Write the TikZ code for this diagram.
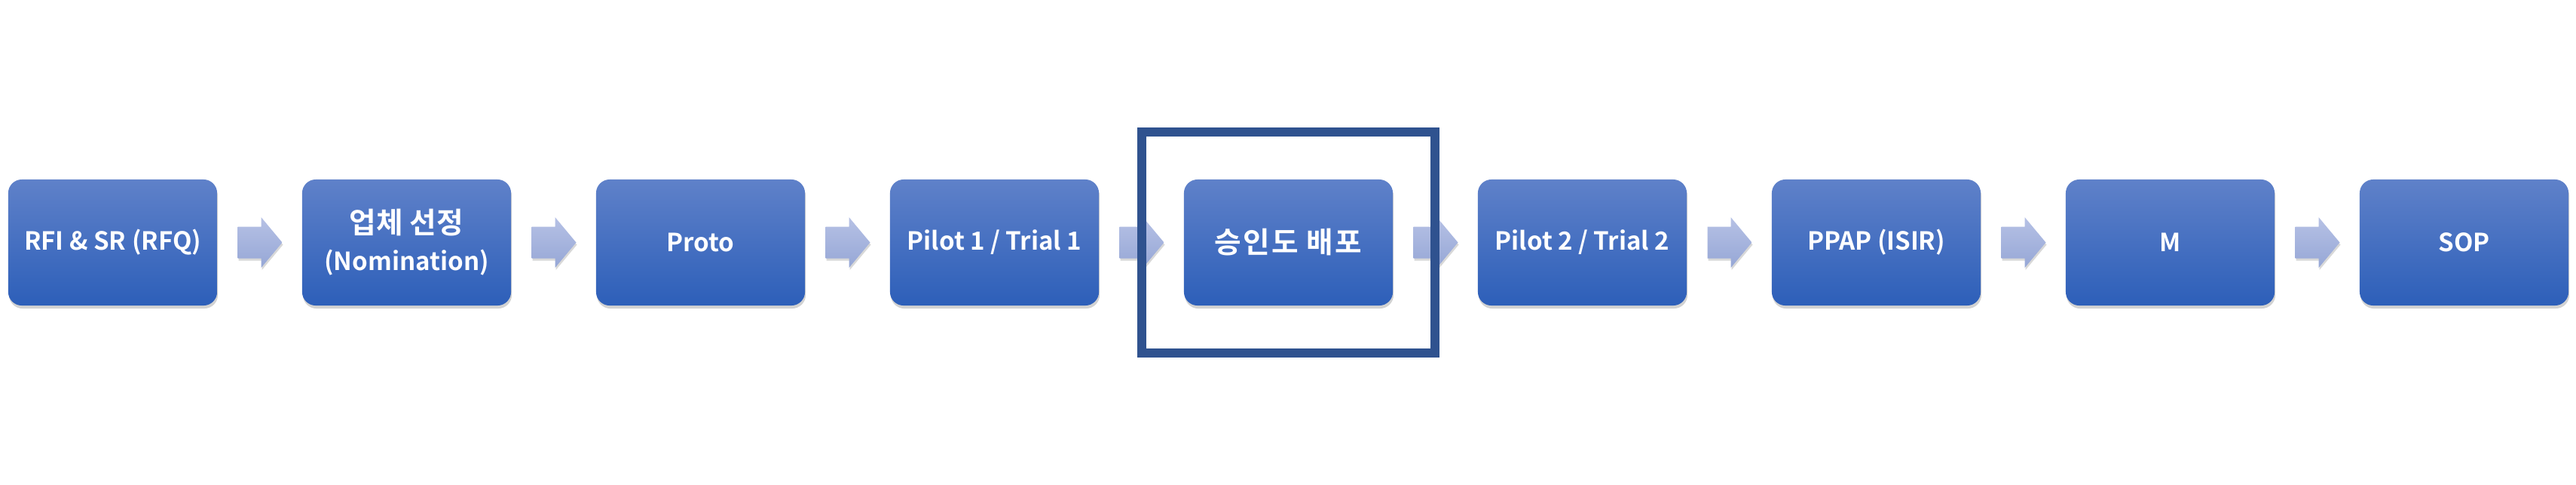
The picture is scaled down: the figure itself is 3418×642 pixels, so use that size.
\documentclass[tikz,border=0pt]{standalone}
\usepackage{fontspec}
\setmainfont{Noto Sans CJK KR}[BoldFont={Noto Sans CJK KR Bold}]
\usetikzlibrary{calc,fit,shadows}
\definecolor{boxtop}{RGB}{95,129,201}
\definecolor{boxbot}{RGB}{45,95,185}
\definecolor{arrtop}{RGB}{182,193,229}
\definecolor{arrbot}{RGB}{150,167,214}
\definecolor{framec}{RGB}{47,82,143}
\newcommand\krtext[1]{{\fontsize{11}{12}\selectfont #1}}
\begin{document}
\begin{tikzpicture}[x=0.01cm,y=-0.01cm,
  stage/.style={minimum width=2.77cm, minimum height=1.67cm, rounded corners=0.18cm,
    top color=boxtop, bottom color=boxbot, draw=none, text=white,
    font=\fontsize{9.4}{12}\selectfont\bfseries, align=center, inner sep=0pt,
    drop shadow={shadow xshift=0.01cm, shadow yshift=-0.04cm, opacity=0.35}},
  flowarrow/.style={top color=arrtop, bottom color=arrbot, draw=none,
    drop shadow={shadow xshift=0.01cm, shadow yshift=-0.03cm, opacity=0.3}},
  selframe/.style={draw=framec, line width=0.12cm, inner xsep=0.55cm, inner ysep=0.62cm}]
\fill[white] (0,0) rectangle (3418,642);
\useasboundingbox (0,0) rectangle (3418,642);
\node[stage] (b1) at (149.5,321.5) {RFI \& SR (RFQ)};
\node[stage] (b2) at (539.5,321.5) {\krtext{업체 선정}\\[2pt](Nomination)};
\node[stage] (b3) at (929.5,321.5) {Proto};
\node[stage] (b4) at (1319.5,321.5) {Pilot 1 / Trial 1};
\node[stage] (b5) at (1709.5,321.5) {\krtext{\addfontfeatures{LetterSpace=6}승인도 배포}};
\node[stage] (b6) at (2099.5,321.5) {Pilot 2 / Trial 2};
\node[stage] (b7) at (2489.5,321.5) {PPAP (ISIR)};
\node[stage] (b8) at (2879.5,321.5) {M};
\node[stage] (b9) at (3269.5,321.5) {SOP};
\foreach \a/\b in {b1/b2,b2/b3,b3/b4,b4/b5,b5/b6,b6/b7,b7/b8,b8/b9}{
  \coordinate (m) at ($(\a.east)!0.5!(\b.west)$);
  \path[flowarrow] ($(m)+(-29,-21)$) -- ($(m)+(2,-21)$) -- ($(m)+(2,-33.5)$)
    -- ($(m)+(30,0)$) -- ($(m)+(2,33.5)$) -- ($(m)+(2,21)$) -- ($(m)+(-29,21)$) -- cycle;
}
\node[selframe, fit=(b5)] (sel) {};
\end{tikzpicture}
\end{document}
